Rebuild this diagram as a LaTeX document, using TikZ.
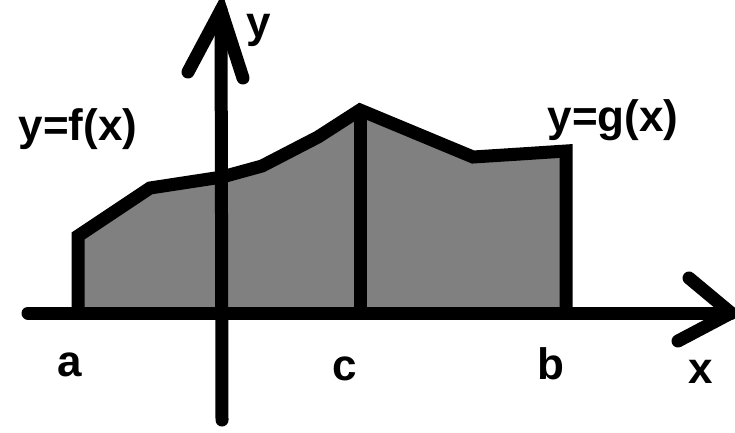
\documentclass[tikz,border=0pt]{standalone}
\usepackage{fontspec}
\setmainfont{Liberation Sans}
\definecolor{areagray}{RGB}{128,128,128}
\begin{document}
\begin{tikzpicture}[x=1pt,y=-1pt,
  thickline/.style={line width=13pt,line cap=round,line join=miter},
  axislabel/.style={inner sep=0pt,anchor=base,font=\fontsize{44}{44}\selectfont\bfseries},
  curvelabel/.style={inner sep=0pt,anchor=base,font=\fontsize{44}{44}\selectfont\bfseries}]
\useasboundingbox (0,0) rectangle (735,432);
% named points
\coordinate (xs) at (28,313);
\coordinate (xe) at (731,313);
\coordinate (xu) at (689,278);
\coordinate (xl) at (678,341);
\coordinate (ys) at (222,420);
\coordinate (ye) at (221,10);
\coordinate (yl) at (188,72);
\coordinate (yr) at (243,78);
\coordinate (A0) at (78,313);
\coordinate (A1) at (78,236);
\coordinate (P1) at (150,188);
\coordinate (P2) at (222,177);
\coordinate (P3) at (262,166);
\coordinate (P4) at (318,137);
\coordinate (C1) at (360,110);
\coordinate (C0) at (360,313);
\coordinate (Q1) at (473,157);
\coordinate (Q2) at (520,154);
\coordinate (B1) at (566,151);
\coordinate (B0) at (566,313);
% shaded area
\fill[areagray] (A0) -- (A1) -- (P1) -- (P2) -- (P3) -- (P4) -- (C1) -- (Q1) -- (Q2) -- (B1) -- (B0) -- cycle;
% axes
\draw[thickline] (xs) -- (xe);
\draw[thickline] (xu) -- (xe) -- (xl);
\draw[thickline] (ys) -- (ye);
\draw[thickline] (yl) -- (ye) -- (yr);
% boundary curves
\draw[thickline,line cap=butt] (A0) -- (A1) -- (P1) -- (P2) -- (P3) -- (P4) -- (C1) -- (Q1) -- (Q2) -- (B1) -- (B0);
\draw[thickline,line cap=butt] (C1) -- (C0);
% labels
\node[curvelabel] (fl) at (78,140) {y=f(x)};
\node[curvelabel] (gl) at (613,131) {y=g(x)};
\node[axislabel] (yy) at (259,37) {y};
\node[axislabel] (la) at (70,376) {a};
\node[axislabel] (lc) at (345,380) {c};
\node[axislabel] (lb) at (551,379) {b};
\node[axislabel] (lx) at (701,383) {x};
\end{tikzpicture}
\end{document}
